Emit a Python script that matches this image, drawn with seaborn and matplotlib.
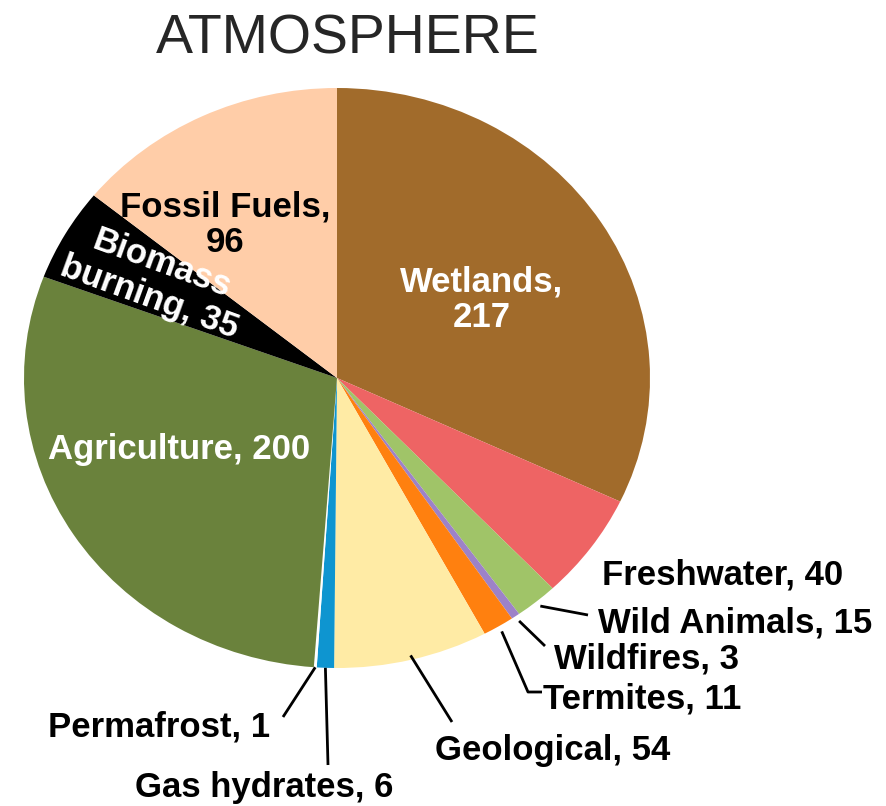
import numpy as np
import matplotlib
matplotlib.use("Agg")
import matplotlib.pyplot as plt
import seaborn as sns

# methane sources (Tg/yr), clockwise from 12 o'clock
sources = ["Wetlands", "Freshwater", "Wild Animals", "Wildfires", "Termites",
           "Geological", "Gas hydrates", "Permafrost", "Agriculture",
           "Biomass burning", "Fossil Fuels"]
values = [217, 40, 15, 3, 11, 54, 6, 1, 200, 35, 96]
colors = ["#A16B2B", "#EE6464", "#A0C468", "#9D82C8", "#FF800F",
          "#FFEBA5", "#0E95D0", "#FFFFFF", "#6A823C", "#000000", "#FFCDA8"]

sns.set_theme(style="white")
plt.rcParams['font.family'] = ['Liberation Sans', 'DejaVu Sans']

W, H = 887, 806
fig = plt.figure(figsize=(W / 100, H / 100), dpi=100)
ax = fig.add_axes([0, 0, 1, 1])

# pie centre and radii in pixels (slightly wider than tall)
cx, cy, rx, ry = 337, 378, 313, 290


def px(x, y):
    return (x - cx) / rx, (cy - y) / ry


ax.pie(values, colors=colors, startangle=90, counterclock=False,
       radius=1, center=(0, 0), wedgeprops=dict(linewidth=0))
ax.set_aspect('auto')
ax.set_xlim(px(0, 0)[0], px(W, 0)[0])
ax.set_ylim(px(0, H)[1], px(0, 0)[1])
ax.axis('off')

fs = 25
cum = np.cumsum([0] + values)
total = cum[-1]


def mid_angle(i):
    return np.deg2rad(90 - (cum[i] + values[i] / 2) / total * 360)


# title
x, y = px(348, 53)
ax.text(x, y, "ATMOSPHERE", fontsize=40, ha='center', va='baseline')

# labels inside the slices
inside = [
    ("Wetlands,\n217", 482, 300, 'white', 0),
    ("Fossil Fuels,\n96", 225, 225, 'black', 0),
    ("Agriculture, 200", 179, 450, 'white', 0),
    ("Biomass\nburning, 35", 156, 281, 'white', -20),
]
for txt, lx, ly, c, rot in inside:
    x, y = px(lx, ly)
    ax.text(x, y, txt, fontsize=fs, fontweight='bold', color=c,
            ha='center', va='center', rotation=rot, rotation_mode='anchor',
            linespacing=1.1, multialignment='center')

# labels outside with leader lines
outside = {
    "Freshwater": (602, 585, None, 1.0),
    "Wild Animals": (598, 632, [(588, 615)], 1.02),
    "Wildfires": (554, 668, [(545, 646)], 1.02),
    "Termites": (543, 708, [(528, 692), (542, 692)], 1.02),
    "Geological": (435, 760, [(452, 722)], 0.985),
    "Gas hydrates": (135, 797, [(328, 765)], 1.0),
    "Permafrost": (48, 737, [(283, 717)], 1.0),
}
for name, (lx, ly, path, r0) in outside.items():
    i = sources.index(name)
    x, y = px(lx, ly)
    ax.text(x, y, f"{name}, {values[i]}", fontsize=fs, fontweight='bold',
            color='black', ha='left', va='baseline')
    if path:
        a = mid_angle(i)
        xs = [r0 * np.cos(a)] + [px(p[0], p[1])[0] for p in path]
        ys = [r0 * np.sin(a)] + [px(p[0], p[1])[1] for p in path]
        ax.plot(xs, ys, color='black', lw=2.0, solid_capstyle='butt')

fig.savefig("out.png", dpi=100, facecolor='white')
